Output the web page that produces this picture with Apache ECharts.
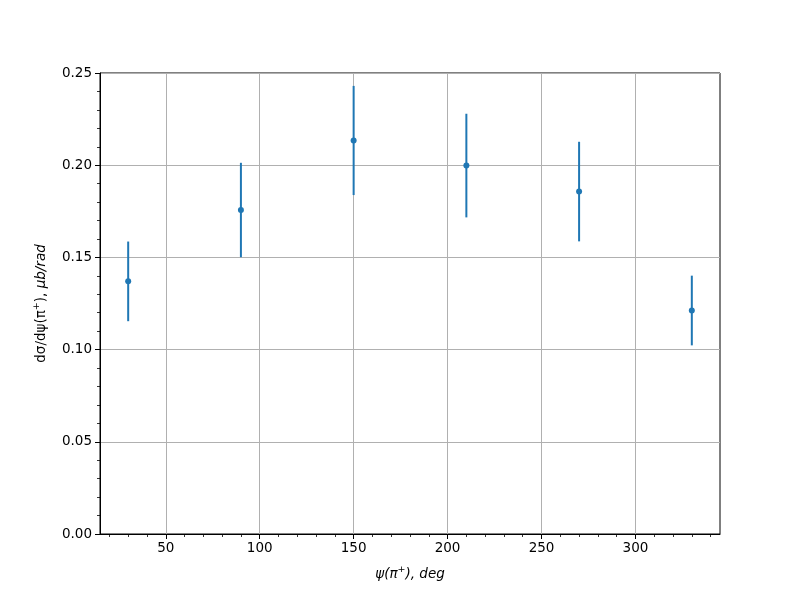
<!DOCTYPE html>
<html>
<head>
<meta charset="utf-8">
<script src="https://cdn.jsdelivr.net/npm/echarts@6/dist/echarts.min.js"></script>
<style>html,body{margin:0;padding:0;background:#fff}#c{width:800px;height:600px}</style>
</head>
<body>
<div id="c"></div>
<script>
const psi = [30, 90, 150, 210, 270, 330];
const dsig = [0.137, 0.1757, 0.2134, 0.1998, 0.1857, 0.1212];
const err = [0.0216, 0.0256, 0.0296, 0.0281, 0.027, 0.0189];
const xTicks = [50, 100, 150, 200, 250, 300];
const xMinorTicks = [20, 30, 40, 50, 60, 70, 80, 90, 100, 110, 120, 130, 140, 150, 160, 170, 180, 190, 200, 210, 220, 230, 240, 250, 260, 270, 280, 290, 300, 310, 320, 330, 340];
const xRange = [15, 345];
const yRange = [0, 0.25];

const FONT = 'DejaVu Sans';
const C = '#1f77b4';
const chart = echarts.init(document.getElementById('c'));
const pts = psi.map((x, i) => [x, dsig[i], err[i]]);

chart.setOption({
  animation: false,
  backgroundColor: '#fff',
  grid: { left: 100, right: 80, top: 73, bottom: 66, show: true, borderColor: '#000', borderWidth: 1, backgroundColor: 'transparent' },
  xAxis: [{
    type: 'value', min: xRange[0], max: xRange[1],
    name: '{i|ψ(π}{s|+}{i|), deg}',
    nameLocation: 'middle', nameGap: 31,
    nameTextStyle: { rich: {
      i: { fontFamily: FONT, fontStyle: 'italic', fontSize: 13.5, color: '#000' },
      s: { fontFamily: FONT, fontStyle: 'italic', fontSize: 9.5, color: '#000', verticalAlign: 'top', padding: [0, 0, 8, 0] }
    } },
    axisLine: { show: true, lineStyle: { color: '#000', width: 1 } },
    axisTick: { show: true, customValues: xTicks, length: 5, lineStyle: { color: '#000', width: 1 } },
    axisLabel: { customValues: xTicks, fontFamily: FONT, fontSize: 13.5, color: '#000', margin: 7 },
    splitLine: { show: false }
  }, {
    type: 'value', min: xRange[0], max: xRange[1], position: 'bottom', gridIndex: 0,
    axisLine: { show: false },
    axisTick: { show: true, customValues: xMinorTicks, length: 3, lineStyle: { color: '#000', width: 0.8 } },
    axisLabel: { show: false },
    splitLine: { show: false }
  }],
  yAxis: {
    type: 'value', min: yRange[0], max: yRange[1], interval: 0.05,
    name: '{n|dσ/dψ(π}{s|+}{n|), }{i|μb/rad}',
    nameLocation: 'middle', nameGap: 50, nameRotate: 90,
    nameTextStyle: { rich: {
      n: { fontFamily: FONT, fontSize: 13.5, color: '#000' },
      i: { fontFamily: FONT, fontStyle: 'italic', fontSize: 13.5, color: '#000' },
      s: { fontFamily: FONT, fontSize: 9.5, color: '#000', verticalAlign: 'top', padding: [0, 0, 8, 0] }
    } },
    axisLine: { show: true, lineStyle: { color: '#000', width: 1 } },
    axisTick: { show: true, length: 5, lineStyle: { color: '#000', width: 1 } },
    minorTick: { show: true, splitNumber: 5, length: 3, lineStyle: { color: '#000', width: 0.8 } },
    axisLabel: { fontFamily: FONT, fontSize: 13.5, color: '#000', margin: 8, formatter: v => v.toFixed(2) },
    splitLine: { show: true, lineStyle: { color: '#b0b0b0', width: 1 } }
  },
  series: [{
    type: 'line', data: [], silent: true, z: 1,
    markLine: {
      silent: true, symbol: 'none', animation: false,
      label: { show: false },
      lineStyle: { color: '#b0b0b0', width: 1, type: 'solid' },
      data: xTicks.map(v => ({ xAxis: v }))
    }
  }, {
    type: 'custom',
    data: pts,
    renderItem: function (params, api) {
      const x = api.value(0), y = api.value(1), e = api.value(2);
      const p1 = api.coord([x, y - e]);
      const p2 = api.coord([x, y + e]);
      return { type: 'line', shape: { x1: p1[0], y1: p1[1], x2: p2[0], y2: p2[1] }, style: { stroke: C, lineWidth: 2 } };
    },
    z: 5
  }, {
    type: 'scatter', data: pts.map(p => [p[0], p[1]]),
    symbol: 'circle', symbolSize: 6,
    itemStyle: { color: C, opacity: 1 },
    z: 6
  }]
});
</script>
</body>
</html>
